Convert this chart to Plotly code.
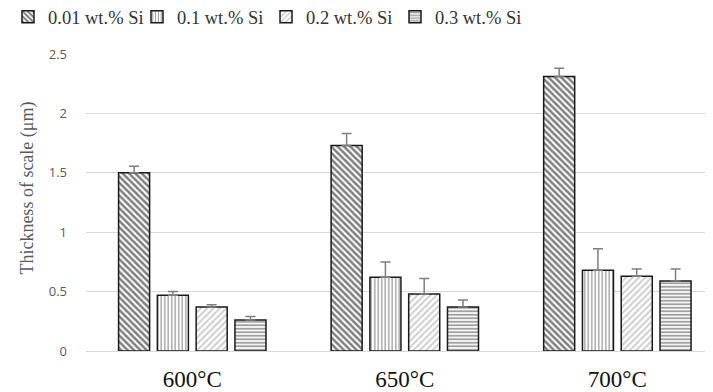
import plotly.graph_objects as go

categories = ["600°C", "650°C", "700°C"]
series_names = ["0.01 wt.% Si", "0.1 wt.% Si", "0.2 wt.% Si", "0.3 wt.% Si"]
si_001 = [1.50, 1.73, 2.31]
si_01 = [0.47, 0.62, 0.68]
si_02 = [0.37, 0.48, 0.63]
si_03 = [0.26, 0.37, 0.59]
err_001 = [0.055, 0.10, 0.07]
err_01 = [0.03, 0.13, 0.18]
err_02 = [0.02, 0.13, 0.06]
err_03 = [0.03, 0.06, 0.10]
y_title = "Thickness of scale (μm)"

values = [si_001, si_01, si_02, si_03]
errors = [err_001, err_01, err_02, err_03]
patterns = [
    dict(shape="\\", fgcolor="#000000", bgcolor="white", size=4.5, solidity=0.55),
    dict(shape="|", fgcolor="#444444", bgcolor="white", size=3.5, solidity=0.4),
    dict(shape="/", fgcolor="#9a9a9a", bgcolor="white", size=4.5, solidity=0.4),
    dict(shape="-", fgcolor="#444444", bgcolor="white", size=3.5, solidity=0.55),
]

fig = go.Figure()
for name, v, e, p in zip(series_names, values, errors, patterns):
    fig.add_trace(go.Bar(
        x=categories, y=v, name=name,
        marker=dict(color="white", pattern=p, line=dict(color="#1a1a1a", width=1.5)),
        error_y=dict(type="data", array=e, arrayminus=[0]*len(e), symmetric=False,
                     color="#7f7f7f", thickness=1.5, width=5),
    ))

# page body has an 8px margin, so the figure is sized/offset to compensate
fig.update_layout(
    width=705, height=384,
    margin=dict(l=78, r=0, t=46, b=41, autoexpand=False),
    paper_bgcolor="white", plot_bgcolor="white",
    barmode="group", bargap=0.27, bargroupgap=0.2,
    font=dict(family="Liberation Serif, Times New Roman, serif", color="#222222"),
    legend=dict(orientation="h", xref="container", yref="paper",
                x=0.0, xanchor="left", y=1.124, yanchor="middle",
                font=dict(size=18.5, color="#333333"),
                entrywidth=84, entrywidthmode="pixels",
                itemwidth=30, tracegroupgap=0),
    showlegend=True,
    annotations=[dict(text=y_title, xref="paper", yref="paper", x=-0.094, y=0.547,
                      xanchor="center", yanchor="middle", textangle=-90, showarrow=False,
                      font=dict(size=18, color="#595959",
                                family="Liberation Serif, Times New Roman, serif"))],
)
fig.update_xaxes(range=[-0.5, 2.45], showgrid=False, showline=False, zeroline=False,
                 automargin=False,
                 tickfont=dict(size=23, color="#111111",
                               family="Liberation Serif, Times New Roman, serif"),
                 ticklabelstandoff=12)
fig.update_yaxes(range=[0, 2.5], tickvals=[0, 0.5, 1, 1.5, 2, 2.5],
                 ticktext=["0", "0.5", "1", "1.5", "2", "2.5"],
                 automargin=False,
                 showgrid=True, gridcolor="#d9d9d9", gridwidth=1,
                 zeroline=True, zerolinecolor="#d9d9d9", zerolinewidth=1,
                 showline=False,
                 tickfont=dict(size=13, color="#595959", family="Open Sans, Liberation Sans, sans-serif"),
                 ticklabelstandoff=18)

fig.write_html("out.html")
